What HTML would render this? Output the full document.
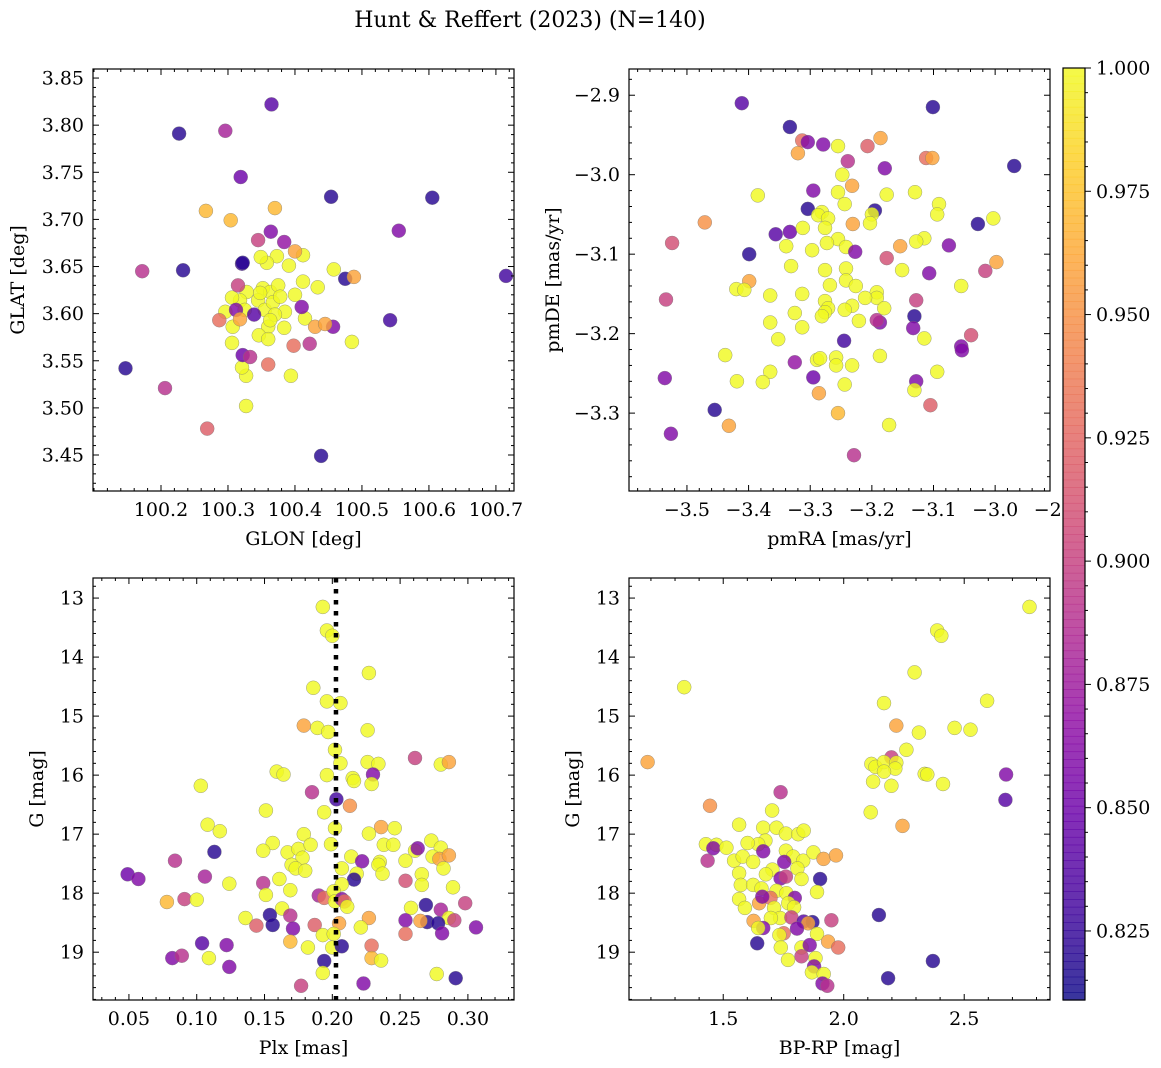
<!DOCTYPE html>
<html><head><meta charset="utf-8">
<style>
html,body{margin:0;padding:0;background:#fff;}
svg{display:block;font-family:"DejaVu Serif","Liberation Serif",serif;}
</style></head>
<body>
<svg id="fig" width="1161" height="1068" viewBox="0 0 1161 1068" xmlns="http://www.w3.org/2000/svg">
<text x="530" y="27" font-size="22" text-anchor="middle">Hunt &amp; Reffert (2023) (N=140)</text>
</svg>
<script>
// ---- Panel 1: GLON / GLAT ----
const p1Glon=[100.365,100.227,100.296,100.319,100.454,100.605,100.555,100.267,100.304,100.370,100.172,100.233,100.321,100.715,100.147,100.206,100.269,100.327,100.439,100.542,
100.352,100.363,100.375,100.345,100.355,100.367,100.378,100.385,100.370,100.360,100.363,100.348,100.328,100.318,100.306,100.296,100.307,100.325,100.400,100.415,100.384,100.346,100.360,100.412,100.434,100.458,100.485,100.391,100.373,100.358,100.349,100.412,100.306,100.327,100.321,100.394,
100.322,100.475,100.488,100.457,100.422,100.398,100.430,100.445,100.322,100.333,100.360,100.287,100.315,100.345,100.384,100.400,100.364,100.410,100.339,100.312,100.318];
const p1Glat=[3.822,3.791,3.794,3.745,3.724,3.723,3.688,3.709,3.699,3.712,3.645,3.646,3.653,3.640,3.542,3.521,3.478,3.502,3.449,3.593,
3.627,3.623,3.630,3.614,3.604,3.612,3.618,3.602,3.599,3.586,3.593,3.622,3.623,3.614,3.617,3.602,3.586,3.604,3.620,3.595,3.585,3.577,3.573,3.634,3.628,3.647,3.570,3.651,3.661,3.654,3.660,3.662,3.569,3.534,3.543,3.534,
3.654,3.637,3.639,3.586,3.568,3.566,3.586,3.589,3.556,3.554,3.546,3.593,3.630,3.678,3.676,3.666,3.687,3.607,3.599,3.604,3.594];
const p1Prob=[.84,.82,.88,.85,.82,.82,.86,.97,.97,.97,.89,.82,.83,.83,.82,.89,.92,1,.82,.83,
1,1,1,1,1,1,1,1,1,1,1,1,1,1,1,1,1,1,1,1,1,1,1,1,1,1,1,1,1,1,1,1,1,1,1,1,
.82,.82,.96,.86,.89,.93,.96,.96,.85,.89,.93,.93,.9,.9,.87,.96,.86,.86,.84,.86,.96];
// ---- Panel 2: pmRA / pmDE ----
const p2Pmra=[-3.411,-3.101,-3.333,-3.313,-3.320,-3.304,-3.279,-3.255,-3.207,-3.186,-3.239,-3.179,-3.112,-3.102,-2.969,-3.248,-3.232,-3.295,-3.255,-3.176,-3.130,-3.385,-3.244,-3.304,-3.195,-3.091,-3.094,-3.281,-3.287,-3.271,-3.200,-3.276,-3.231,-3.203,-3.003,-3.028,-3.471,-3.524,-3.333,-3.356,-3.312,-3.255,-3.273,-3.115,-3.128,-3.154,-3.075,-3.339,-3.297,-3.399,-3.242,-3.227,-3.176,-2.998,-3.016,-3.107,-3.331,-3.242,-3.276,-3.151,-3.399,-3.242,-3.268,-3.226,-3.192,-3.192,-3.313,-3.420,-3.407,-3.365,-3.055,-3.128,-3.534,-3.276,-3.211,-3.232,-3.271,-3.244,-3.276,-3.325,-3.281,-3.131,-3.187,-3.192,-3.221,-3.180,-3.365,-3.133,-3.313,-3.245,-3.352,-3.115,-3.039,-3.055,-3.054,-3.325,-3.289,-3.284,-3.258,-3.258,-3.232,-3.187,-3.438,-3.094,-3.365,-3.377,-3.419,-3.536,-3.295,-3.128,-3.244,-3.286,-3.131,-3.105,-3.455,-3.255,-3.432,-3.172,-3.526,-3.229];
const p2Pmde=[-2.910,-2.915,-2.940,-2.957,-2.973,-2.959,-2.962,-2.964,-2.964,-2.954,-2.983,-2.992,-2.979,-2.979,-2.989,-3.000,-3.014,-3.020,-3.022,-3.025,-3.022,-3.026,-3.037,-3.043,-3.045,-3.037,-3.050,-3.047,-3.051,-3.055,-3.050,-3.067,-3.062,-3.061,-3.055,-3.062,-3.060,-3.086,-3.072,-3.075,-3.067,-3.081,-3.086,-3.080,-3.084,-3.090,-3.089,-3.090,-3.095,-3.100,-3.091,-3.097,-3.105,-3.110,-3.121,-3.124,-3.115,-3.118,-3.120,-3.120,-3.134,-3.133,-3.139,-3.140,-3.148,-3.155,-3.150,-3.144,-3.145,-3.152,-3.140,-3.158,-3.157,-3.159,-3.155,-3.165,-3.168,-3.170,-3.173,-3.174,-3.178,-3.178,-3.186,-3.183,-3.184,-3.168,-3.186,-3.193,-3.192,-3.209,-3.207,-3.206,-3.202,-3.216,-3.221,-3.236,-3.233,-3.231,-3.230,-3.240,-3.240,-3.228,-3.227,-3.248,-3.248,-3.261,-3.260,-3.256,-3.255,-3.260,-3.264,-3.275,-3.271,-3.290,-3.296,-3.300,-3.316,-3.315,-3.326,-3.353];
const p2Prob=[.84,.82,.82,.93,.96,.86,.86,1,.92,.96,.89,.86,.93,.96,.82,1,.96,.86,1,1,1,1,1,.82,.82,1,1,1,1,1,1,1,.96,1,1,.82,.95,.91,.85,.84,1,1,1,1,1,.96,.86,1,1,.82,1,.86,.91,.96,.9,.86,1,1,1,1,.96,1,1,1,1,1,1,1,1,1,1,.9,.9,1,1,1,1,1,1,1,1,.82,.86,.89,1,1,1,.86,1,.83,1,1,.91,.86,.86,.87,1,1,1,1,1,1,1,1,1,1,1,.86,.85,.86,1,.96,1,.92,.82,.97,.96,1,.86,.89];
// ---- Panel 3: Plx / G ----
const p3Plx=[.193,.196,.200,.227,.186,.196,.206,.179,.189,.197,.226,.202,.206,.226,.234,.261,.280,.286,.159,.164,.196,.215,.216,.230,.229,.103,.185,.203,.213,.194,.151,.108,.117,.202,.236,.246,.227,.179,.156,.149,.167,.175,.184,.199,.238,.245,.273,.280,.261,.263,.274,.279,.286,.254,.113,.084,.178,.170,.173,.180,.214,.222,.235,.234,.207,.237,.282,.049,.057,.106,.124,.149,.161,.218,.216,.207,.254,.266,.266,.289,.151,.169,.078,.091,.100,.190,.194,.201,.202,.207,.209,.211,.163,.298,.269,.258,.280,.286,.290,.270,.278,.265,.254,.281,.306,.254,.154,.156,.136,.144,.169,.171,.187,.205,.227,.221,.193,.201,.169,.182,.200,.207,.229,.229,.236,.104,.122,.082,.089,.109,.124,.194,.193,.177,.223,.277,.291];
const p3G=[13.15,13.55,13.64,14.27,14.52,14.75,14.78,15.16,15.20,15.27,15.24,15.57,15.80,15.78,15.81,15.71,15.82,15.78,15.94,15.99,16.00,16.05,16.10,15.99,16.15,16.18,16.29,16.41,16.52,16.63,16.60,16.84,16.95,16.90,16.88,16.90,16.99,17.0,17.15,17.28,17.31,17.25,17.18,17.17,17.18,17.18,17.11,17.23,17.28,17.24,17.38,17.42,17.36,17.45,17.30,17.45,17.40,17.52,17.58,17.62,17.38,17.46,17.47,17.52,17.58,17.67,17.58,17.68,17.76,17.72,17.84,17.83,17.76,17.67,17.77,17.85,17.79,17.68,17.86,17.90,18.03,17.95,18.15,18.10,18.11,18.04,18.08,17.97,18.14,18.10,18.14,18.23,18.26,18.17,18.20,18.25,18.28,18.42,18.46,18.49,18.51,18.47,18.46,18.68,18.58,18.69,18.37,18.54,18.42,18.55,18.38,18.60,18.54,18.51,18.42,18.58,18.71,18.69,18.82,18.92,18.92,18.90,18.89,19.10,19.14,18.85,18.88,19.10,19.06,19.10,19.25,19.15,19.35,19.57,19.53,19.37,19.44];
const p3Prob=[1,1,1,1,1,1,1,.96,1,1,1,1,1,1,1,.9,1,.96,1,1,1,1,1,.86,1,1,.89,.83,.95,1,1,1,1,1,.96,1,1,1,1,1,1,1,1,1,1,1,1,1,1,.86,1,.96,.96,1,.82,.89,1,1,1,1,1,.86,1,1,1,1,1,.85,.86,.88,1,.89,1,1,.82,1,.91,1,1,1,1,1,.97,.9,1,.88,.93,1,1,.86,.93,1,1,.9,.82,1,.88,1,.9,.82,.82,.96,.86,.86,.86,.93,.82,.82,1,.92,.89,.86,.92,.96,.96,1,1,1,.97,1,1,.82,.93,.97,1,.84,.86,.86,.89,1,.86,.82,1,.9,.86,1,.82];
// ---- Panel 4: BP-RP / G ----
const p4Bprp=[2.771,2.388,2.405,2.294,1.338,2.167,2.595,2.218,2.460,2.526,2.312,2.260,1.186,2.198,2.115,2.132,2.167,2.218,2.214,2.167,2.336,2.347,2.412,2.674,2.671,2.122,2.198,2.112,2.244,1.445,1.738,1.703,1.566,1.666,1.721,1.760,1.811,1.834,1.675,1.645,1.601,1.428,1.472,1.459,1.513,1.435,1.545,1.581,1.624,1.666,1.760,1.790,1.832,1.874,1.916,1.968,1.753,1.808,1.566,1.704,1.677,1.738,1.760,1.825,1.902,1.573,1.624,1.659,1.721,1.762,1.889,1.566,1.590,1.649,1.696,1.662,1.797,1.770,1.794,1.711,1.736,1.783,1.626,1.698,1.834,1.870,1.852,1.949,1.666,1.645,1.751,1.806,1.733,1.889,1.641,1.739,1.825,1.859,1.935,1.977,1.825,1.769,1.883,1.877,1.868,1.917,1.912,1.932,2.146,2.370,2.184];
const p4G=[13.15,13.55,13.64,14.26,14.51,14.78,14.74,15.16,15.20,15.23,15.28,15.57,15.78,15.70,15.81,15.86,15.78,15.79,15.89,15.94,15.98,15.99,16.15,15.99,16.42,16.11,16.18,16.63,16.86,16.52,16.29,16.60,16.84,16.89,16.89,16.99,17.0,16.94,17.11,17.17,17.15,17.17,17.18,17.24,17.23,17.45,17.45,17.38,17.47,17.29,17.28,17.38,17.45,17.31,17.42,17.36,17.47,17.58,17.66,17.60,17.68,17.75,17.72,17.76,17.76,17.86,17.86,17.92,17.96,18.00,17.98,18.10,18.25,18.17,18.08,18.06,18.08,18.17,18.24,18.25,18.42,18.41,18.47,18.42,18.48,18.49,18.51,18.46,18.59,18.59,18.68,18.60,18.71,18.69,18.85,18.92,18.92,18.88,18.82,18.92,19.07,19.13,19.10,19.24,19.34,19.37,19.53,19.57,18.37,19.15,19.44];
const p4Prob=[1,1,1,1,1,1,1,.96,1,1,1,1,.96,.9,1,1,1,1,1,1,1,1,1,.86,.84,1,1,1,.96,.95,.89,1,1,1,1,1,1,1,1,1,1,1,1,.86,1,.89,1,1,1,.86,1,1,1,1,.96,.96,.86,1,1,1,1,.86,.9,1,.82,1,1,1,1,1,1,1,1,.96,.93,.86,.86,1,1,1,1,.9,.96,1,.84,.82,.96,.9,.86,1,.93,.86,1,1,.82,1,1,.86,.96,.93,.9,1,1,.86,1,1,.86,.89,.82,.82,.82];
// ---- Tick labels ----
const p1XTicks=[100.2,100.3,100.4,100.5,100.6,100.7];
const p1YTicks=[3.45,3.50,3.55,3.60,3.65,3.70,3.75,3.80,3.85];
const p2XTicks=[-3.5,-3.4,-3.3,-3.2,-3.1,-3.0,-2.9];
const p2YTicks=[-3.3,-3.2,-3.1,-3.0,-2.9];
const p3XTicks=[0.05,0.10,0.15,0.20,0.25,0.30];
const gTicks=[13,14,15,16,17,18,19];
const p4XTicks=[1.5,2.0,2.5];
const cbTicks=[0.825,0.850,0.875,0.900,0.925,0.950,0.975,1.000];
const plxLine=[0.2027];

const NS='http://www.w3.org/2000/svg';
const svg=document.getElementById('fig');
function mk(tag,attrs,parent){const e=document.createElementNS(NS,tag);for(const k in attrs)e.setAttribute(k,attrs[k]);(parent||svg).appendChild(e);return e;}
const stops=[[13,8,135],[65,4,157],[106,0,168],[143,13,164],[177,42,144],[204,71,120],[225,100,98],[242,132,75],[252,166,54],[252,206,37],[240,249,33]];
const CMIN=0.811,CMAX=1.0;
function cmap(v){let t=(v-CMIN)/(CMAX-CMIN);t=Math.max(0,Math.min(1,t))*10;const i=Math.min(9,Math.floor(t)),f=t-i;const a=stops[i],b=stops[i+1];return 'rgb('+a.map((c,k)=>Math.round(c+(b[k]-c)*f)).join(',')+')';}
function fmt(v,d){return (v<0?'\u2212':'')+Math.abs(v).toFixed(d);}

function panel(cfg){
  const {name,x0,y0,x1,y1,xd,yd,invY}=cfg;
  const g=mk('g',{});
  
  
  const sx=v=>x0+(v-xd[0])/(xd[1]-xd[0])*(x1-x0);
  const sy=v=>invY? y0+(v-yd[0])/(yd[1]-yd[0])*(y1-y0) : y1-(v-yd[0])/(yd[1]-yd[0])*(y1-y0);
  const pts=mk('g',{},g);
  
  
  for(let i=0;i<cfg.xs.length;i++){
    const c=mk('circle',{cx:sx(cfg.xs[i]).toFixed(1),cy:sy(cfg.ys[i]).toFixed(1),r:7,fill:cmap(cfg.cs[i]),'fill-opacity':0.82,stroke:'#777','stroke-width':0.5,'stroke-opacity':0.7},pts);
    
    
  }
  if(cfg.vline){
    const l=mk('line',{x1:sx(cfg.vline[0]),x2:sx(cfg.vline[0]),y1:y0,y2:y1,stroke:'#000','stroke-width':4.5,'stroke-dasharray':'4.5,6.5'},g);
    
    
  }
  const fr=mk('rect',{x:x0,y:y0,width:x1-x0,height:y1-y0,fill:'none',stroke:'#000','stroke-width':1.2},g);
  
  
  const tk=mk('g',{stroke:'#000','stroke-width':1},g);
  const xm=cfg.xMinor, ym=cfg.yMinor;
  let s=Math.ceil(xd[0]/xm-1e-6);
  for(let k=s;k*xm<=xd[1]+1e-9;k++){const v=k*xm;const px=sx(v);const major=cfg.xTicks.some(t=>Math.abs(t-v)<xm/10);const L=major?6:3;
    mk('line',{x1:px,x2:px,y1:y1,y2:y1-L},tk);mk('line',{x1:px,x2:px,y1:y0,y2:y0+L},tk);}
  s=Math.ceil(yd[0]/ym-1e-6);
  for(let k=s;k*ym<=yd[1]+1e-9;k++){const v=k*ym;const py=sy(v);const major=cfg.yTicks.some(t=>Math.abs(t-v)<ym/10);const L=major?6:3;
    mk('line',{x1:x0,x2:x0+L,y1:py,y2:py},tk);mk('line',{x1:x1,x2:x1-L,y1:py,y2:py},tk);}
  cfg.xTicks.forEach(t=>{const e=mk('text',{x:sx(t),y:y1+25,'font-size':19,'text-anchor':'middle'},g);e.textContent=fmt(t,cfg.xd_dec);
    });
  cfg.yTicks.forEach(t=>{const e=mk('text',{x:x0-9,y:sy(t)+6.5,'font-size':19,'text-anchor':'end'},g);e.textContent=fmt(t,cfg.yd_dec);
    });
  const xl=mk('text',{x:(x0+x1)/2,y:y1+54,'font-size':19,'text-anchor':'middle'},g);xl.textContent=cfg.xlabel;
  
  const yl=mk('text',{x:cfg.ylx,y:(y0+y1)/2,'font-size':19,'text-anchor':'middle',transform:'rotate(-90 '+cfg.ylx+' '+((y0+y1)/2)+')'},g);yl.textContent=cfg.ylabel;
  
}
panel({name:'glon-glat-panel',x0:93,y0:69,x1:514,y1:491,xd:[100.0985,100.727],yd:[3.4118,3.8596],xs:p1Glon,ys:p1Glat,cs:p1Prob,xTicks:p1XTicks,yTicks:p1YTicks,xMinor:0.02,yMinor:0.01,xd_dec:1,yd_dec:2,xlabel:'GLON [deg]',ylabel:'GLAT [deg]',ylx:24});
panel({name:'pm-panel',x0:629,y0:69,x1:1050,y1:491,xd:[-3.594,-2.911],yd:[-3.398,-2.867],xs:p2Pmra,ys:p2Pmde,cs:p2Prob,xTicks:p2XTicks,yTicks:p2YTicks,xMinor:0.02,yMinor:0.02,xd_dec:1,yd_dec:1,xlabel:'pmRA [mas/yr]',ylabel:'pmDE [mas/yr]',ylx:559});
panel({name:'plx-g-panel',x0:93,y0:578,x1:514,y1:1000,xd:[0.0235,0.334],yd:[12.66,19.81],invY:true,xs:p3Plx,ys:p3G,cs:p3Prob,xTicks:p3XTicks,yTicks:gTicks,xMinor:0.01,yMinor:0.2,xd_dec:2,yd_dec:0,xlabel:'Plx [mas]',ylabel:'G [mag]',ylx:43,vline:plxLine});
panel({name:'cmd-panel',x0:629,y0:578,x1:1050,y1:1000,xd:[1.109,2.856],yd:[12.66,19.81],invY:true,xs:p4Bprp,ys:p4G,cs:p4Prob,xTicks:p4XTicks,yTicks:gTicks,xMinor:0.1,yMinor:0.2,xd_dec:1,yd_dec:0,xlabel:'BP-RP [mag]',ylabel:'G [mag]',ylx:579});

// colorbar
(function(){
  const cx0=1063,cx1=1085,cy0=68,cy1=1000;
  const g=mk('g',{});
  
  
  mk('rect',{x:cx0,y:cy0,width:cx1-cx0,height:cy1-cy0,fill:'#fff'},g);
  const n=120;
  for(let i=0;i<n;i++){const v=CMAX-(CMAX-CMIN)*(i+0.5)/n;
    mk('rect',{x:cx0,y:cy0+(cy1-cy0)*i/n,width:cx1-cx0,height:(cy1-cy0)/n+0.6,fill:cmap(v),'fill-opacity':0.82},g);}
  mk('rect',{x:cx0,y:cy0,width:cx1-cx0,height:cy1-cy0,fill:'none',stroke:'#000','stroke-width':1.2},g);
  const sy=v=>cy0+(CMAX-v)/(CMAX-CMIN)*(cy1-cy0);
  for(let k=Math.ceil(CMIN/0.005);k*0.005<=CMAX+1e-9;k++){const v=k*0.005;const major=cbTicks.some(t=>Math.abs(t-v)<1e-4);
    mk('line',{x1:cx1,x2:cx1+(major?6:3),y1:sy(v),y2:sy(v),stroke:'#000','stroke-width':1},g);}
  cbTicks.forEach(t=>{const e=mk('text',{x:cx1+11,y:sy(t)+6.5,'font-size':19},g);e.textContent=t.toFixed(3);
    });
})();
</script>
</body></html>
